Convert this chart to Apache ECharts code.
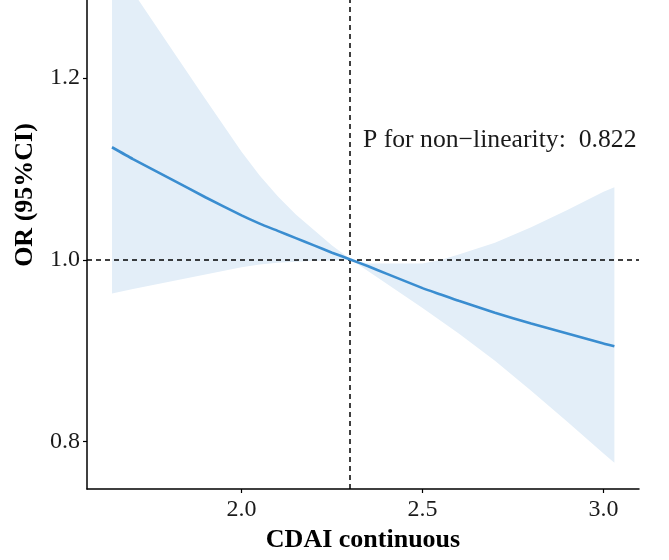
<!DOCTYPE html>
<html>
<head>
<meta charset="utf-8">
<script src="https://cdn.jsdelivr.net/npm/echarts@6/dist/echarts.min.js"></script>
<style>
  html, body { margin: 0; padding: 0; background: #fff; }
  #chart { width: 669px; height: 560px; }
</style>
</head>
<body>
<div id="chart"></div>
<script>
// CDAI values along the curve
const cdai = [1.642, 1.7, 1.8, 1.9, 2.0, 2.05, 2.1, 2.15, 2.2, 2.25, 2.304, 2.35, 2.4, 2.5, 2.55, 2.6, 2.7, 2.8, 2.9, 3.0, 3.03];
// odds ratio and 95% CI
const orValues = [1.124, 1.111, 1.090, 1.069, 1.049, 1.040, 1.032, 1.024, 1.016, 1.008, 1.000, 0.993, 0.985, 0.969, 0.962, 0.955, 0.942, 0.930, 0.919, 0.908, 0.905];
const upperCI = [1.330, 1.295, 1.236, 1.177, 1.119, 1.093, 1.070, 1.050, 1.033, 1.016, 1.000, 0.996, 0.996, 0.996, 1.000, 1.006, 1.019, 1.036, 1.055, 1.075, 1.080];
const lowerCI = [0.963, 0.968, 0.976, 0.984, 0.992, 0.995, 0.997, 0.998, 0.999, 0.9995, 1.000, 0.9875, 0.974, 0.947, 0.933, 0.919, 0.889, 0.856, 0.822, 0.787, 0.777];

const xTicks = [2.0, 2.5, 3.0];
const yTicks = [0.8, 1.0, 1.2];
const refX = 2.304;   // reference value (OR = 1)
const refY = 1.0;
const pText = 'P for non\u2212linearity:  0.822';

const FONT = '"Liberation Serif", "Times New Roman", serif';

const chart = echarts.init(document.getElementById('chart'));

const axisCommon = {
  type: 'value',
  axisLine: { show: true, lineStyle: { color: '#000', width: 1.5 } },
  axisTick: { show: true, length: 4, lineStyle: { color: '#000', width: 1.2 } },
  splitLine: { show: false },
  axisLabel: { color: '#1a1a1a', fontFamily: FONT, fontSize: 24, formatter: v => v.toFixed(1) }
};

// CI band as one polygon: upper edge forward, lower edge back
function renderBand(params, api) {
  if (params.dataIndex !== 0) return;
  const pts = [];
  for (let i = 0; i < cdai.length; i++) pts.push(api.coord([cdai[i], upperCI[i]]));
  for (let i = cdai.length - 1; i >= 0; i--) pts.push(api.coord([cdai[i], lowerCI[i]]));
  const cs = params.coordSys;
  return {
    type: 'polygon',
    shape: { points: pts },
    style: { fill: '#e3eef8' },
    clipPath: { type: 'rect', shape: { x: cs.x, y: cs.y, width: cs.width, height: cs.height } }
  };
}

chart.setOption({
  animation: false,
  grid: { left: 87, right: 30, top: 0, bottom: 71, containLabel: false },
  xAxis: Object.assign({}, axisCommon, {
    min: 1.573, max: 3.098,
    axisTick: Object.assign({}, axisCommon.axisTick, { customValues: xTicks }),
    axisLabel: Object.assign({}, axisCommon.axisLabel, { customValues: xTicks, margin: 9 }),
    name: 'CDAI continuous',
    nameLocation: 'middle',
    nameGap: 34,
    nameTextStyle: { color: '#000', fontFamily: FONT, fontSize: 26, fontWeight: 'bold' }
  }),
  yAxis: Object.assign({}, axisCommon, {
    min: 0.748, max: 1.286,
    axisTick: Object.assign({}, axisCommon.axisTick, { customValues: yTicks }),
    axisLabel: Object.assign({}, axisCommon.axisLabel, { customValues: yTicks, margin: 7 })
  }),
  graphic: [
    {
      type: 'text', x: 25, y: 195, rotation: Math.PI / 2, z: 10,
      style: { text: 'OR (95%CI)', font: 'bold 26px ' + FONT, fill: '#000', align: 'center', verticalAlign: 'middle' }
    },
    {
      type: 'text', x: 363, y: 140, z: 10,
      style: { text: pText, font: '25.7px ' + FONT, fill: '#1a1a1a', align: 'left', verticalAlign: 'middle' }
    }
  ],
  series: [
    {
      name: 'CI', type: 'custom', silent: true, z: 1,
      renderItem: renderBand,
      encode: { x: 0, y: [1, 2] },
      data: cdai.map((x, i) => [x, lowerCI[i], upperCI[i]])
    },
    {
      name: 'OR', type: 'line', symbol: 'none', z: 5, smooth: 0.2,
      lineStyle: { color: '#3a8dd0', width: 2.6 },
      data: cdai.map((x, i) => [x, orValues[i]]),
      markLine: {
        silent: true, symbol: 'none',
        label: { show: false },
        lineStyle: { color: '#000', type: [5, 4], width: 1.5 },
        data: [{ xAxis: refX }, { yAxis: refY }]
      }
    }
  ]
});
</script>
</body>
</html>
